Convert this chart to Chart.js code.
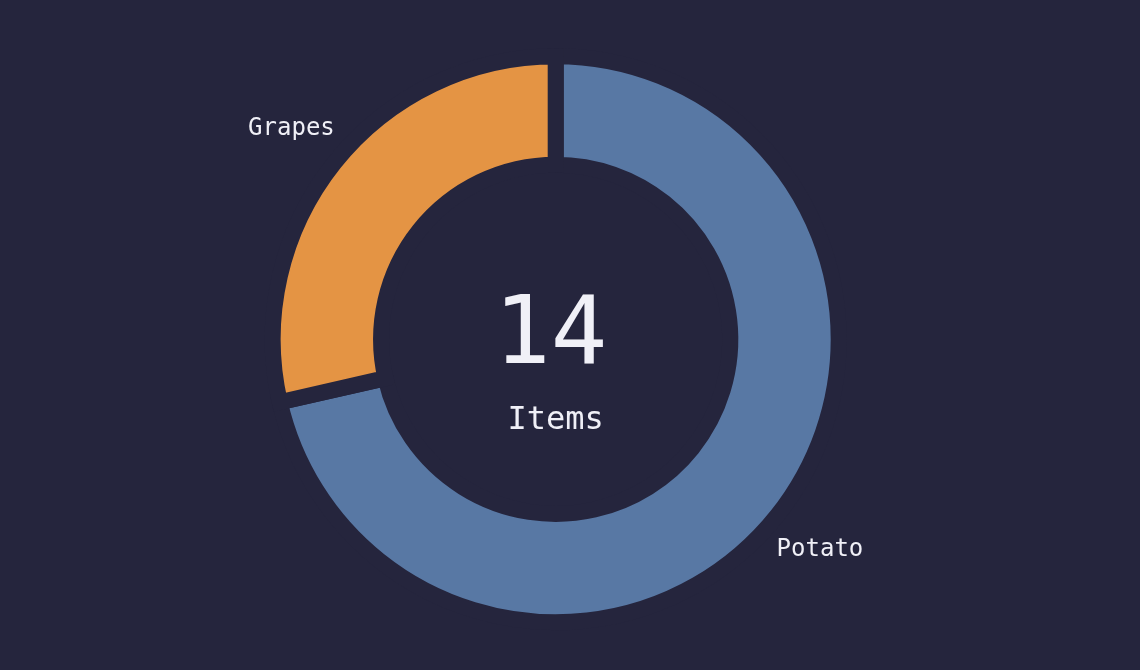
<!DOCTYPE html>
<html>
<head>
<meta charset="utf-8">
<script src="https://cdn.jsdelivr.net/npm/chart.js@4/dist/chart.umd.min.js"></script>
<style>
  html, body { margin: 0; padding: 0; background: #25253d; }
  #wrap { width: 1140px; height: 670px; }
</style>
</head>
<body>
<div id="wrap"><canvas id="c" width="1140" height="670"></canvas></div>
<script>
const categories = ['Potato', 'Grapes'];
const values = [10, 4];
const colors = ['#5878a4', '#e49444'];
const centerLabel = 'Items';

const BG = '#25253d';
const TEXT = '#f0f0f7';
const MONO = '"DejaVu Sans Mono", "Liberation Mono", monospace';

const total = values.reduce((a, b) => a + b, 0);

const labelPlugin = {
  id: 'labelsAndCenter',
  afterDatasetsDraw(chart) {
    const ctx = chart.ctx;
    const meta = chart.getDatasetMeta(0);
    ctx.save();
    ctx.fillStyle = TEXT;
    ctx.textAlign = 'center';
    ctx.textBaseline = 'middle';
    ctx.font = '24px ' + MONO;
    meta.data.forEach((arc, i) => {
      const p = arc.getProps(['x', 'y', 'startAngle', 'endAngle', 'outerRadius'], true);
      const mid = (p.startAngle + p.endAngle) / 2;
      const r = p.outerRadius + 55;
      ctx.fillText(chart.data.labels[i], p.x + Math.cos(mid) * r, p.y + Math.sin(mid) * r);
    });
    const a0 = meta.data[0];
    const cx = a0.x, cy = a0.y;
    ctx.font = '300 94px ' + MONO;
    ctx.fillText(String(total), cx - 5, cy - 1);
    ctx.font = '32px ' + MONO;
    ctx.fillText(centerLabel, cx, cy + 81);
    ctx.restore();
  }
};

new Chart(document.getElementById('c'), {
  type: 'doughnut',
  data: {
    labels: categories,
    datasets: [{
      data: values,
      backgroundColor: colors,
      borderColor: BG,
      borderWidth: 16,
      borderJoinStyle: 'miter',
      hoverOffset: 0
    }]
  },
  options: {
    responsive: false,
    animation: false,
    radius: 283,
    cutout: '61.7%',
    layout: { padding: { left: 0, right: 28.6, top: 8.6, bottom: 0 } },
    plugins: {
      legend: { display: false },
      tooltip: { enabled: false }
    }
  },
  plugins: [labelPlugin]
});
</script>
</body>
</html>
